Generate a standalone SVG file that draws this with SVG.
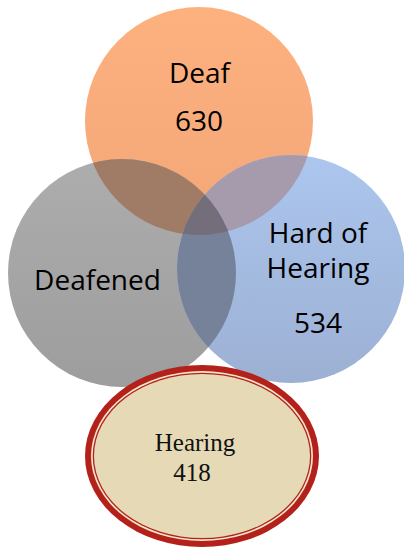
<svg xmlns="http://www.w3.org/2000/svg" width="404" height="548" viewBox="0 0 404 548">
<defs>
<linearGradient id="gO" x1="0" y1="0" x2="0" y2="1"><stop offset="0" stop-color="#FDB17F"/><stop offset="1" stop-color="#F3A778"/></linearGradient>
<linearGradient id="gG" x1="0" y1="0" x2="0" y2="1"><stop offset="0" stop-color="#ADADAD"/><stop offset="1" stop-color="#9D9D9D"/></linearGradient>
<linearGradient id="gB" x1="0" y1="0" x2="0" y2="1"><stop offset="0" stop-color="#ACC6EE"/><stop offset="1" stop-color="#9CB0D3"/></linearGradient>
<clipPath id="cD"><circle cx="199" cy="121" r="114"/></clipPath>
<clipPath id="cG"><circle cx="122" cy="273" r="114"/></clipPath>
<clipPath id="cB"><circle cx="291" cy="269" r="114"/></clipPath>
</defs>
<style>
.t{font-family:"Open Sans","Noto Sans",sans-serif;font-size:28px;fill:#000;text-anchor:middle}
.s{font-family:"Liberation Serif","Times New Roman",serif;font-size:25px;fill:#111;text-anchor:middle}
</style>
<g id="deaf"><circle cx="199" cy="121" r="114" fill="url(#gO)"/></g>
<g id="deafened"><circle cx="122" cy="273" r="114" fill="url(#gG)"/></g>
<g id="hard-of-hearing"><circle cx="291" cy="269" r="114" fill="url(#gB)"/></g>
<g id="overlaps">
<circle cx="199" cy="121" r="114" fill="#A07B65" clip-path="url(#cG)"/>
<circle cx="199" cy="121" r="114" fill="#A69AAD" clip-path="url(#cB)"/>
<circle cx="122" cy="273" r="114" fill="#75829A" clip-path="url(#cB)"/>
<g clip-path="url(#cB)"><circle cx="122" cy="273" r="114" fill="#736E7A" clip-path="url(#cD)"/></g>
</g>
<g id="labels">
<text class="t" x="199.5" y="83">Deaf</text>
<text class="t" x="199" y="131">630</text>
<text class="t" x="97.5" y="290">Deafened</text>
<text class="t" x="318" y="243">Hard of</text>
<text class="t" x="318" y="278">Hearing</text>
<text class="t" x="318" y="333">534</text>
</g>
<g id="hearing">
<ellipse cx="202" cy="456" rx="117" ry="91" fill="#B3211A"/>
<ellipse cx="202" cy="456" rx="111" ry="85" fill="#F2E8CF"/>
<ellipse cx="202" cy="456" rx="109.3" ry="83.3" fill="#B3211A"/>
<ellipse cx="202" cy="456" rx="108" ry="82" fill="#E5D9B6"/>
<text class="s" x="195" y="451">Hearing</text>
<text class="s" x="192" y="481">418</text>
</g>
</svg>
